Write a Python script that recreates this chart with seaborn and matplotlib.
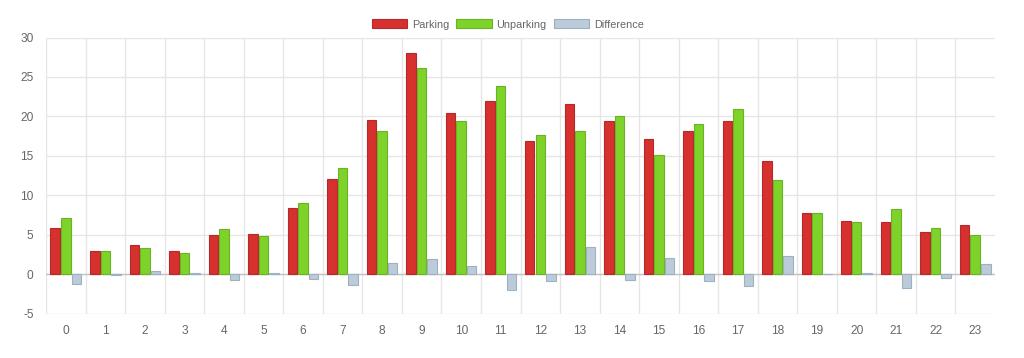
import matplotlib
matplotlib.use("Agg")
import matplotlib.pyplot as plt
import seaborn as sns
import pandas as pd
import numpy as np
from matplotlib.patches import Patch

hours = [str(h) for h in range(24)]
parking = [5.9, 2.9, 3.7, 2.9, 5.0, 5.1, 8.4, 12.1, 19.6, 28.0, 20.4, 21.9,
           16.9, 21.6, 19.4, 17.1, 18.1, 19.4, 14.3, 7.7, 6.7, 6.6, 5.4, 6.3]
unparking = [7.1, 3.0, 3.3, 2.7, 5.7, 4.9, 9.0, 13.4, 18.2, 26.1, 19.4, 23.9,
             17.7, 18.1, 20.1, 15.1, 19.0, 20.9, 12.0, 7.7, 6.6, 8.3, 5.9, 5.0]
difference = [-1.2, -0.1, 0.4, 0.2, -0.7, 0.2, -0.6, -1.3, 1.4, 1.9, 1.0, -2.0,
              -0.8, 3.5, -0.7, 2.0, -0.9, -1.5, 2.3, 0.0, 0.1, -1.7, -0.5, 1.3]
series_names = ["Parking", "Unparking", "Difference"]
yticks = [-5, 0, 5, 10, 15, 20, 25, 30]

colors = ["#d6302f", "#7ed32a", "#bccbd9"]
edges = ["#b52a28", "#6ab325", "#9fb0c0"]

df = pd.DataFrame({
    "hour": hours * 3,
    "value": parking + unparking + difference,
    "series": [series_names[0]] * 24 + [series_names[1]] * 24 + [series_names[2]] * 24,
})

sns.set_theme(style="white")
plt.rcParams["font.family"] = ["Liberation Sans", "DejaVu Sans"]

fig = plt.figure(figsize=(10.24, 3.58), dpi=100)
ax = fig.add_axes([46 / 1024, (358 - 313.7) / 358, (995 - 46) / 1024, (313.7 - 37.5) / 358])

sns.barplot(data=df, x="hour", y="value", hue="series", order=hours,
            hue_order=series_names, palette=colors, saturation=1, width=0.8, gap=0.1,
            ax=ax, legend=False, zorder=3)

for cont, ec in zip(ax.containers, edges):
    for p in cont:
        p.set_edgecolor(ec)
        p.set_linewidth(0.8)

grid_c = "#e6e6e6"
ax.set_xlim(-0.5, 23.5)
ax.set_ylim(-5, 30)
ax.set_yticks(yticks)
ax.set_yticklabels([str(t) for t in yticks])
ax.set_xticks(range(24))
ax.set_xticklabels(hours)
ax.set_xticks(np.arange(-0.5, 23, 1.0), minor=True)

for t in yticks:
    ax.axhline(t, color=grid_c, lw=1, zorder=1)
ax.axhline(0, color="#c4c4c4", lw=1, zorder=2)
for b in np.arange(-0.5, 23, 1.0):
    ax.axvline(b, color=grid_c, lw=1, zorder=1)

ax.tick_params(axis="x", which="major", length=0, pad=8, labelsize=8.6, labelcolor="#666666")
ax.tick_params(axis="x", which="minor", length=8, width=1, color=grid_c, direction="out")
ax.tick_params(axis="y", which="major", length=8, width=1, color=grid_c, pad=1,
               labelsize=8.6, labelcolor="#666666")
for s in ax.spines.values():
    s.set_visible(False)
ax.set_xlabel("")
ax.set_ylabel("")

handles = [Patch(facecolor=c, edgecolor=e, linewidth=0.8) for c, e in zip(colors, edges)]
leg = fig.legend(handles, series_names, loc="center", bbox_to_anchor=(0.496, 1 - 24.5 / 358),
                 ncol=3, frameon=False, fontsize=7.8, handlelength=3.24, handleheight=0.83,
                 handletextpad=0.46, columnspacing=0.68, labelcolor="#666666")

fig.savefig("out.png", dpi=100, facecolor="white")
